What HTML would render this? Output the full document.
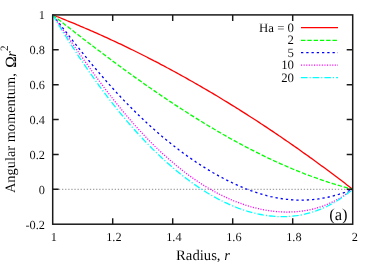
<!DOCTYPE html>
<html><head><meta charset="utf-8"><title>Angular momentum</title>
<style>
html,body{margin:0;padding:0;background:#fff;}
svg{display:block;will-change:transform;text-rendering:geometricPrecision;font-family:"Liberation Serif",serif;fill:#000;}
text{stroke:#fff;stroke-width:0.05px;}
</style></head><body>
<svg width="374" height="262" viewBox="0 0 374 262">
<rect width="374" height="262" fill="#fff"/>
<line x1="52.7" y1="189.3" x2="352.7" y2="189.3" stroke="#707070" stroke-width="0.8" stroke-dasharray="1.3 1.8"/>
<path d="M52.7,14.9 L54.7,15.7 L56.7,16.5 L58.7,17.2 L60.7,18.0 L62.7,18.8 L64.7,19.6 L66.7,20.5 L68.7,21.3 L70.7,22.1 L72.7,22.9 L74.7,23.7 L76.7,24.6 L78.7,25.4 L80.7,26.3 L82.7,27.1 L84.7,28.0 L86.7,28.8 L88.7,29.7 L90.7,30.6 L92.7,31.4 L94.7,32.3 L96.7,33.2 L98.7,34.1 L100.7,35.0 L102.7,35.9 L104.7,36.8 L106.7,37.7 L108.7,38.6 L110.7,39.6 L112.7,40.5 L114.7,41.4 L116.7,42.3 L118.7,43.3 L120.7,44.2 L122.7,45.2 L124.7,46.2 L126.7,47.1 L128.7,48.1 L130.7,49.1 L132.7,50.0 L134.7,51.0 L136.7,52.0 L138.7,53.0 L140.7,54.0 L142.7,55.0 L144.7,56.0 L146.7,57.0 L148.7,58.1 L150.7,59.1 L152.7,60.1 L154.7,61.2 L156.7,62.2 L158.7,63.2 L160.7,64.3 L162.7,65.3 L164.7,66.4 L166.7,67.5 L168.7,68.5 L170.7,69.6 L172.7,70.7 L174.7,71.8 L176.7,72.9 L178.7,74.0 L180.7,75.1 L182.7,76.2 L184.7,77.3 L186.7,78.4 L188.7,79.6 L190.7,80.7 L192.7,81.8 L194.7,83.0 L196.7,84.1 L198.7,85.3 L200.7,86.4 L202.7,87.6 L204.7,88.7 L206.7,89.9 L208.7,91.1 L210.7,92.3 L212.7,93.4 L214.7,94.6 L216.7,95.8 L218.7,97.0 L220.7,98.2 L222.7,99.5 L224.7,100.7 L226.7,101.9 L228.7,103.1 L230.7,104.4 L232.7,105.6 L234.7,106.8 L236.7,108.1 L238.7,109.3 L240.7,110.6 L242.7,111.9 L244.7,113.1 L246.7,114.4 L248.7,115.7 L250.7,117.0 L252.7,118.2 L254.7,119.5 L256.7,120.8 L258.7,122.1 L260.7,123.5 L262.7,124.8 L264.7,126.1 L266.7,127.4 L268.7,128.7 L270.7,130.1 L272.7,131.4 L274.7,132.8 L276.7,134.1 L278.7,135.5 L280.7,136.8 L282.7,138.2 L284.7,139.6 L286.7,141.0 L288.7,142.3 L290.7,143.7 L292.7,145.1 L294.7,146.5 L296.7,147.9 L298.7,149.3 L300.7,150.7 L302.7,152.2 L304.7,153.6 L306.7,155.0 L308.7,156.4 L310.7,157.9 L312.7,159.3 L314.7,160.8 L316.7,162.2 L318.7,163.7 L320.7,165.2 L322.7,166.6 L324.7,168.1 L326.7,169.6 L328.7,171.1 L330.7,172.6 L332.7,174.1 L334.7,175.6 L336.7,177.1 L338.7,178.6 L340.7,180.1 L342.7,181.6 L344.7,183.1 L346.7,184.7 L348.7,186.2 L350.7,187.8 L352.7,189.3" fill="none" stroke="#ff0000" stroke-width="1.3"/>
<path d="M52.7,14.9 L54.7,16.5 L56.7,18.1 L58.7,19.7 L60.7,21.2 L62.7,22.8 L64.7,24.4 L66.7,25.9 L68.7,27.5 L70.7,29.1 L72.7,30.6 L74.7,32.2 L76.7,33.7 L78.7,35.3 L80.7,36.8 L82.7,38.4 L84.7,39.9 L86.7,41.4 L88.7,43.0 L90.7,44.5 L92.7,46.0 L94.7,47.6 L96.7,49.1 L98.7,50.6 L100.7,52.1 L102.7,53.6 L104.7,55.1 L106.7,56.6 L108.7,58.1 L110.7,59.6 L112.7,61.1 L114.7,62.5 L116.7,64.0 L118.7,65.5 L120.7,66.9 L122.7,68.4 L124.7,69.9 L126.7,71.3 L128.7,72.8 L130.7,74.2 L132.7,75.6 L134.7,77.1 L136.7,78.5 L138.7,79.9 L140.7,81.3 L142.7,82.7 L144.7,84.2 L146.7,85.6 L148.7,87.0 L150.7,88.3 L152.7,89.7 L154.7,91.1 L156.7,92.5 L158.7,93.8 L160.7,95.2 L162.7,96.6 L164.7,97.9 L166.7,99.3 L168.7,100.6 L170.7,101.9 L172.7,103.2 L174.7,104.6 L176.7,105.9 L178.7,107.2 L180.7,108.5 L182.7,109.8 L184.7,111.1 L186.7,112.3 L188.7,113.6 L190.7,114.9 L192.7,116.1 L194.7,117.4 L196.7,118.6 L198.7,119.9 L200.7,121.1 L202.7,122.3 L204.7,123.6 L206.7,124.8 L208.7,126.0 L210.7,127.2 L212.7,128.3 L214.7,129.5 L216.7,130.7 L218.7,131.9 L220.7,133.0 L222.7,134.2 L224.7,135.3 L226.7,136.4 L228.7,137.6 L230.7,138.7 L232.7,139.8 L234.7,140.9 L236.7,142.0 L238.7,143.1 L240.7,144.1 L242.7,145.2 L244.7,146.3 L246.7,147.3 L248.7,148.4 L250.7,149.4 L252.7,150.4 L254.7,151.4 L256.7,152.4 L258.7,153.4 L260.7,154.4 L262.7,155.4 L264.7,156.4 L266.7,157.3 L268.7,158.3 L270.7,159.2 L272.7,160.1 L274.7,161.1 L276.7,162.0 L278.7,162.9 L280.7,163.8 L282.7,164.7 L284.7,165.5 L286.7,166.4 L288.7,167.3 L290.7,168.1 L292.7,169.0 L294.7,169.8 L296.7,170.6 L298.7,171.4 L300.7,172.2 L302.7,173.0 L304.7,173.8 L306.7,174.5 L308.7,175.3 L310.7,176.0 L312.7,176.8 L314.7,177.5 L316.7,178.2 L318.7,178.9 L320.7,179.6 L322.7,180.3 L324.7,181.0 L326.7,181.6 L328.7,182.3 L330.7,182.9 L332.7,183.6 L334.7,184.2 L336.7,184.8 L338.7,185.4 L340.7,186.0 L342.7,186.6 L344.7,187.1 L346.7,187.7 L348.7,188.2 L350.7,188.8 L352.7,189.3" fill="none" stroke="#00ff00" stroke-width="1.3" stroke-dasharray="4.4 1.9"/>
<path d="M52.7,14.9 L54.7,17.5 L56.7,20.1 L58.7,22.6 L60.7,25.2 L62.7,27.8 L64.7,30.4 L66.7,32.9 L68.7,35.5 L70.7,38.0 L72.7,40.6 L74.7,43.1 L76.7,45.6 L78.7,48.1 L80.7,50.6 L82.7,53.1 L84.7,55.6 L86.7,58.0 L88.7,60.4 L90.7,62.9 L92.7,65.3 L94.7,67.7 L96.7,70.0 L98.7,72.4 L100.7,74.7 L102.7,77.0 L104.7,79.3 L106.7,81.6 L108.7,83.9 L110.7,86.1 L112.7,88.3 L114.7,90.5 L116.7,92.7 L118.7,94.8 L120.7,97.0 L122.7,99.1 L124.7,101.2 L126.7,103.2 L128.7,105.3 L130.7,107.3 L132.7,109.3 L134.7,111.3 L136.7,113.3 L138.7,115.2 L140.7,117.1 L142.7,119.0 L144.7,120.9 L146.7,122.8 L148.7,124.6 L150.7,126.4 L152.7,128.2 L154.7,130.0 L156.7,131.8 L158.7,133.5 L160.7,135.2 L162.7,136.9 L164.7,138.6 L166.7,140.2 L168.7,141.8 L170.7,143.4 L172.7,145.0 L174.7,146.6 L176.7,148.1 L178.7,149.7 L180.7,151.2 L182.7,152.7 L184.7,154.1 L186.7,155.6 L188.7,157.0 L190.7,158.4 L192.7,159.8 L194.7,161.1 L196.7,162.5 L198.7,163.8 L200.7,165.1 L202.7,166.4 L204.7,167.6 L206.7,168.9 L208.7,170.1 L210.7,171.3 L212.7,172.5 L214.7,173.6 L216.7,174.7 L218.7,175.9 L220.7,176.9 L222.7,178.0 L224.7,179.1 L226.7,180.1 L228.7,181.1 L230.7,182.1 L232.7,183.0 L234.7,184.0 L236.7,184.9 L238.7,185.8 L240.7,186.6 L242.7,187.5 L244.7,188.3 L246.7,189.1 L248.7,189.8 L250.7,190.6 L252.7,191.3 L254.7,192.0 L256.7,192.6 L258.7,193.3 L260.7,193.9 L262.7,194.5 L264.7,195.0 L266.7,195.6 L268.7,196.1 L270.7,196.6 L272.7,197.0 L274.7,197.4 L276.7,197.8 L278.7,198.2 L280.7,198.5 L282.7,198.8 L284.7,199.1 L286.7,199.3 L288.7,199.5 L290.7,199.7 L292.7,199.9 L294.7,200.0 L296.7,200.1 L298.7,200.1 L300.7,200.2 L302.7,200.1 L304.7,200.1 L306.7,200.0 L308.7,199.9 L310.7,199.8 L312.7,199.6 L314.7,199.4 L316.7,199.2 L318.7,198.9 L320.7,198.6 L322.7,198.2 L324.7,197.9 L326.7,197.5 L328.7,197.0 L330.7,196.6 L332.7,196.1 L334.7,195.5 L336.7,195.0 L338.7,194.4 L340.7,193.7 L342.7,193.1 L344.7,192.4 L346.7,191.6 L348.7,190.9 L350.7,190.1 L352.7,189.3" fill="none" stroke="#0000ff" stroke-width="1.3" stroke-dasharray="2.3 2.95"/>
<path d="M52.7,14.9 L54.7,17.8 L56.7,20.7 L58.7,23.6 L60.7,26.5 L62.7,29.5 L64.7,32.4 L66.7,35.3 L68.7,38.2 L70.7,41.1 L72.7,43.9 L74.7,46.8 L76.7,49.7 L78.7,52.5 L80.7,55.4 L82.7,58.2 L84.7,61.0 L86.7,63.8 L88.7,66.6 L90.7,69.4 L92.7,72.2 L94.7,74.9 L96.7,77.6 L98.7,80.3 L100.7,83.0 L102.7,85.7 L104.7,88.3 L106.7,90.9 L108.7,93.5 L110.7,96.1 L112.7,98.6 L114.7,101.1 L116.7,103.6 L118.7,106.1 L120.7,108.6 L122.7,111.0 L124.7,113.4 L126.7,115.8 L128.7,118.1 L130.7,120.4 L132.7,122.7 L134.7,125.0 L136.7,127.2 L138.7,129.4 L140.7,131.6 L142.7,133.8 L144.7,135.9 L146.7,138.0 L148.7,140.0 L150.7,142.1 L152.7,144.1 L154.7,146.1 L156.7,148.0 L158.7,149.9 L160.7,151.8 L162.7,153.7 L164.7,155.5 L166.7,157.3 L168.7,159.1 L170.7,160.8 L172.7,162.5 L174.7,164.2 L176.7,165.9 L178.7,167.5 L180.7,169.1 L182.7,170.7 L184.7,172.2 L186.7,173.7 L188.7,175.2 L190.7,176.6 L192.7,178.0 L194.7,179.4 L196.7,180.8 L198.7,182.1 L200.7,183.4 L202.7,184.7 L204.7,185.9 L206.7,187.2 L208.7,188.3 L210.7,189.5 L212.7,190.6 L214.7,191.7 L216.7,192.8 L218.7,193.8 L220.7,194.9 L222.7,195.8 L224.7,196.8 L226.7,197.7 L228.7,198.6 L230.7,199.5 L232.7,200.4 L234.7,201.2 L236.7,202.0 L238.7,202.7 L240.7,203.4 L242.7,204.1 L244.7,204.8 L246.7,205.5 L248.7,206.1 L250.7,206.7 L252.7,207.2 L254.7,207.8 L256.7,208.3 L258.7,208.7 L260.7,209.2 L262.7,209.6 L264.7,209.9 L266.7,210.3 L268.7,210.6 L270.7,210.9 L272.7,211.2 L274.7,211.4 L276.7,211.6 L278.7,211.7 L280.7,211.9 L282.7,212.0 L284.7,212.0 L286.7,212.1 L288.7,212.0 L290.7,212.0 L292.7,211.9 L294.7,211.8 L296.7,211.7 L298.7,211.5 L300.7,211.3 L302.7,211.0 L304.7,210.7 L306.7,210.4 L308.7,210.0 L310.7,209.5 L312.7,209.1 L314.7,208.6 L316.7,208.0 L318.7,207.4 L320.7,206.8 L322.7,206.1 L324.7,205.3 L326.7,204.6 L328.7,203.7 L330.7,202.8 L332.7,201.9 L334.7,200.9 L336.7,199.8 L338.7,198.7 L340.7,197.6 L342.7,196.3 L344.7,195.1 L346.7,193.7 L348.7,192.3 L350.7,190.8 L352.7,189.3" fill="none" stroke="#ff00ff" stroke-width="1.3" stroke-dasharray="1.1 1.5"/>
<path d="M52.7,14.9 L54.7,18.2 L56.7,21.5 L58.7,24.8 L60.7,28.1 L62.7,31.3 L64.7,34.5 L66.7,37.7 L68.7,40.9 L70.7,44.0 L72.7,47.1 L74.7,50.2 L76.7,53.2 L78.7,56.3 L80.7,59.3 L82.7,62.2 L84.7,65.2 L86.7,68.1 L88.7,71.0 L90.7,73.9 L92.7,76.7 L94.7,79.5 L96.7,82.3 L98.7,85.1 L100.7,87.8 L102.7,90.5 L104.7,93.2 L106.7,95.8 L108.7,98.5 L110.7,101.1 L112.7,103.6 L114.7,106.2 L116.7,108.7 L118.7,111.1 L120.7,113.6 L122.7,116.0 L124.7,118.4 L126.7,120.8 L128.7,123.1 L130.7,125.5 L132.7,127.7 L134.7,130.0 L136.7,132.2 L138.7,134.4 L140.7,136.6 L142.7,138.7 L144.7,140.9 L146.7,143.0 L148.7,145.0 L150.7,147.0 L152.7,149.1 L154.7,151.0 L156.7,153.0 L158.7,154.9 L160.7,156.8 L162.7,158.7 L164.7,160.5 L166.7,162.3 L168.7,164.1 L170.7,165.8 L172.7,167.5 L174.7,169.2 L176.7,170.9 L178.7,172.5 L180.7,174.2 L182.7,175.7 L184.7,177.3 L186.7,178.8 L188.7,180.3 L190.7,181.8 L192.7,183.2 L194.7,184.6 L196.7,186.0 L198.7,187.4 L200.7,188.7 L202.7,190.0 L204.7,191.2 L206.7,192.5 L208.7,193.7 L210.7,194.9 L212.7,196.0 L214.7,197.1 L216.7,198.2 L218.7,199.3 L220.7,200.3 L222.7,201.3 L224.7,202.3 L226.7,203.2 L228.7,204.2 L230.7,205.0 L232.7,205.9 L234.7,206.7 L236.7,207.5 L238.7,208.3 L240.7,209.0 L242.7,209.7 L244.7,210.4 L246.7,211.0 L248.7,211.6 L250.7,212.2 L252.7,212.7 L254.7,213.2 L256.7,213.7 L258.7,214.1 L260.7,214.5 L262.7,214.9 L264.7,215.2 L266.7,215.5 L268.7,215.8 L270.7,216.0 L272.7,216.2 L274.7,216.4 L276.7,216.5 L278.7,216.6 L280.7,216.6 L282.7,216.7 L284.7,216.6 L286.7,216.6 L288.7,216.5 L290.7,216.3 L292.7,216.1 L294.7,215.9 L296.7,215.7 L298.7,215.4 L300.7,215.0 L302.7,214.6 L304.7,214.2 L306.7,213.7 L308.7,213.2 L310.7,212.7 L312.7,212.0 L314.7,211.4 L316.7,210.7 L318.7,209.9 L320.7,209.2 L322.7,208.3 L324.7,207.4 L326.7,206.5 L328.7,205.5 L330.7,204.4 L332.7,203.3 L334.7,202.2 L336.7,201.0 L338.7,199.7 L340.7,198.4 L342.7,197.0 L344.7,195.6 L346.7,194.1 L348.7,192.6 L350.7,191.0 L352.7,189.3" fill="none" stroke="#00ffff" stroke-width="1.3" stroke-dasharray="6.5 2 1.2 2"/>
<line x1="301" y1="27.6" x2="338" y2="27.6" stroke="#ff0000" stroke-width="1.3"/>
<line x1="301" y1="40.3" x2="338" y2="40.3" stroke="#00ff00" stroke-width="1.3" stroke-dasharray="4.4 1.9"/>
<line x1="301" y1="52.6" x2="338" y2="52.6" stroke="#0000ff" stroke-width="1.3" stroke-dasharray="2.3 2.95"/>
<line x1="301" y1="65.1" x2="338" y2="65.1" stroke="#ff00ff" stroke-width="1.3" stroke-dasharray="1.1 1.5"/>
<line x1="301" y1="77.7" x2="338" y2="77.7" stroke="#00ffff" stroke-width="1.3" stroke-dasharray="6.5 2 1.2 2"/>
<rect x="52.7" y="14.9" width="300.0" height="209.3" fill="none" stroke="#1a1a1a" stroke-width="1.5"/>
<path d="M112.7,224.2v-6 M112.7,14.9v6 M172.7,224.2v-6 M172.7,14.9v6 M232.7,224.2v-6 M232.7,14.9v6 M292.7,224.2v-6 M292.7,14.9v6 M52.7,49.8h6 M352.7,49.8h-6 M52.7,84.7h6 M352.7,84.7h-6 M52.7,119.5h6 M352.7,119.5h-6 M52.7,154.4h6 M352.7,154.4h-6 M52.7,189.3h6 M352.7,189.3h-6" stroke="#1a1a1a" stroke-width="1.45" fill="none"/>
<g>
<text x="294" y="31.6" text-anchor="end" font-size="12.8">Ha = 0</text>
<text x="294" y="44.3" text-anchor="end" font-size="12.8">2</text>
<text x="294" y="56.6" text-anchor="end" font-size="12.8">5</text>
<text x="294" y="69.1" text-anchor="end" font-size="12.8">10</text>
<text x="294" y="81.7" text-anchor="end" font-size="12.8">20</text>
<text x="53.9" y="241.1" text-anchor="middle" font-size="12.3">1</text>
<text x="113.9" y="241.1" text-anchor="middle" font-size="12.3">1.2</text>
<text x="173.9" y="241.1" text-anchor="middle" font-size="12.3">1.4</text>
<text x="233.9" y="241.1" text-anchor="middle" font-size="12.3">1.6</text>
<text x="293.9" y="241.1" text-anchor="middle" font-size="12.3">1.8</text>
<text x="354.9" y="241.1" text-anchor="middle" font-size="12.3">2</text>
<text x="44.9" y="19.3" text-anchor="end" font-size="12.3">1</text>
<text x="44.9" y="54.2" text-anchor="end" font-size="12.3">0.8</text>
<text x="44.9" y="89.1" text-anchor="end" font-size="12.3">0.6</text>
<text x="44.9" y="123.9" text-anchor="end" font-size="12.3">0.4</text>
<text x="44.9" y="158.8" text-anchor="end" font-size="12.3">0.2</text>
<text x="44.9" y="193.7" text-anchor="end" font-size="12.3">0</text>
<text x="44.9" y="228.6" text-anchor="end" font-size="12.3">-0.2</text>
<text x="203.0" y="260.2" text-anchor="middle" font-size="14.7">Radius, <tspan font-style="italic">r</tspan></text>
<g transform="translate(15.0,193.1) rotate(-90)"><text x="0" y="0" font-size="14.4">Angular momentum,</text><text x="125.4" y="0.6" font-size="15.5" style="stroke:#000;stroke-width:0.12px">Ω</text><text x="136.3" y="0.6" font-size="14.6" font-style="italic">r</text><text x="142.1" y="-7.2" font-size="11.2">2</text></g>
<text x="338.4" y="219.7" text-anchor="middle" font-size="16.7">(a)</text>
</g>
</svg>
</body></html>
